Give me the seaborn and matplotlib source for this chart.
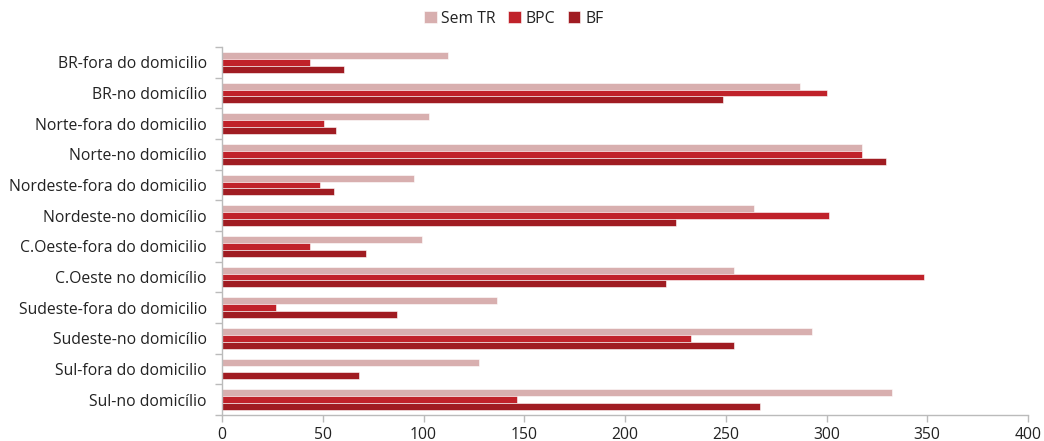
import matplotlib
matplotlib.use("Agg")
import matplotlib.pyplot as plt
import seaborn as sns
import pandas as pd
import numpy as np
from matplotlib.ticker import FixedLocator

categories = ["BR-fora do domicilio", "BR-no domicílio", "Norte-fora do domicilio",
              "Norte-no domicílio", "Nordeste-fora do domicilio", "Nordeste-no domicílio",
              "C.Oeste-fora do domicilio", "C.Oeste no domicílio", "Sudeste-fora do domicilio",
              "Sudeste-no domicílio", "Sul-fora do domicilio", "Sul-no domicílio"]
sem_tr = [112, 287, 102.7, 317.8, 95.3, 263.8, 99.3, 254, 136.5, 293, 127.5, 332.3]
bpc = [43.7, 300, 50.5, 317.8, 48.5, 301, 43.5, 348.4, 26.8, 232.8, 0, 146.4]
bf = [60.5, 248.5, 56.4, 329.4, 55.4, 225.3, 71.6, 220.2, 86.7, 254, 68.1, 267]
series = ["Sem TR", "BPC", "BF"]
colors = ["#D8AFAF", "#C0222A", "#A01C22"]
xticks = [0, 50, 100, 150, 200, 250, 300, 350, 400]

df = pd.DataFrame({"cat": categories * 3,
                   "val": sem_tr + bpc + bf,
                   "serie": [s for s in series for _ in categories]})

sns.set_style("white")
plt.rcParams['font.family'] = ['Open Sans', 'DejaVu Sans']

fig = plt.figure(figsize=(10.44, 4.41), dpi=100)
ax = fig.add_axes([222/1044, 1 - 415/441, (1028-222)/1044, (415-47)/441])
sns.barplot(data=df, y="cat", x="val", hue="serie", order=categories,
            hue_order=series, palette=colors, orient="h", width=0.68,
            saturation=1, edgecolor="white", linewidth=0.4, ax=ax)

ax.set_xlim(0, 400)
ax.set_ylim(len(categories) - 0.5, -0.5)
ax.set_xticks(xticks)
ax.set_xticklabels([str(t) for t in xticks], fontsize=11.3, color="#222222")
ax.tick_params(axis="y", which="major", length=0, labelsize=11.3, labelcolor="#222222", pad=11)
ax.yaxis.set_minor_locator(FixedLocator(np.arange(-0.5, len(categories), 1.0)))
ax.tick_params(axis="y", which="minor", length=5, color="#BBBBBB", width=1, left=True)
ax.tick_params(axis="x", length=5, color="#BBBBBB", width=1, bottom=True, pad=3.5)
ax.set_xlabel("")
ax.set_ylabel("")
for s in ["top", "right"]:
    ax.spines[s].set_visible(False)
for s in ["left", "bottom"]:
    ax.spines[s].set_color("#BBBBBB")
    ax.spines[s].set_linewidth(1)

leg = ax.legend(loc="lower center", bbox_to_anchor=(0.362, 1.0), ncol=3, frameon=False,
                fontsize=11.3, handlelength=0.8, handleheight=0.8, handletextpad=0.3,
                columnspacing=0.8, borderaxespad=0.9)
for t in leg.get_texts():
    t.set_color("#222222")

fig.savefig("out.png", dpi=100)
